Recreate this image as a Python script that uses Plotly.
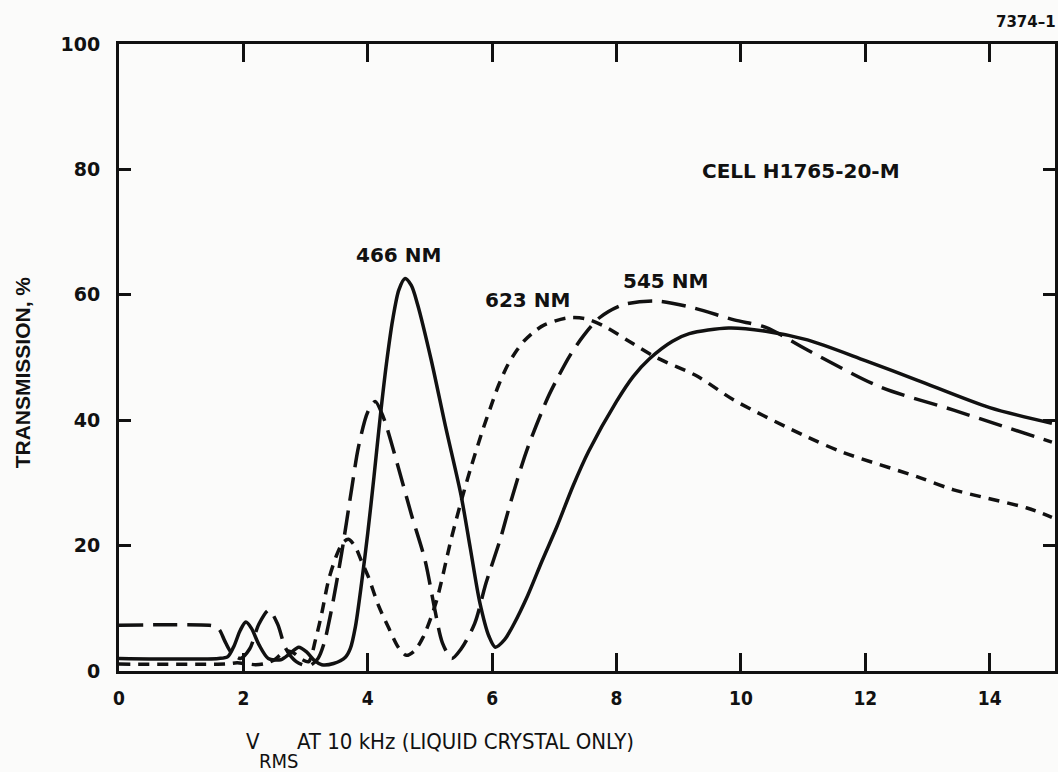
import plotly.graph_objects as go

# Transmission vs. RMS drive voltage (10 kHz) for cell H1765-20-M at three wavelengths
v_466 = [0, 1.6, 1.75, 1.85, 1.95, 2.04, 2.13, 2.25, 2.4, 2.6, 2.75, 2.89, 3.02, 3.15, 3.26,
         3.45, 3.64, 3.72, 3.8, 3.9, 4.0, 4.1, 4.2, 4.3, 4.4, 4.5, 4.6, 4.7, 4.8, 5.02, 5.25,
         5.5, 5.65, 5.8, 5.95, 6.05, 6.2, 6.35, 6.57, 6.8, 7.04, 7.3, 7.55, 8.0, 8.27, 8.53,
         8.9, 9.17, 9.8, 10.4, 11.07, 12.0, 12.83, 14.0, 15.0]
t_466 = [2.0, 2.0, 2.3, 4.0, 6.5, 7.8, 6.8, 4.2, 2.0, 1.8, 2.8, 3.8, 3.0, 1.6, 1.0,
         1.2, 2.2, 3.6, 7.0, 14.0, 22.0, 31.0, 40.5, 49.0, 56.0, 60.8, 62.6, 61.5, 58.5, 49.6, 39.0,
         28.0, 19.5, 11.0, 5.5, 3.8, 5.0, 7.5, 12.0, 17.5, 23.0, 29.5, 35.0, 43.0, 47.0, 49.8,
         52.6, 53.8, 54.7, 54.2, 52.8, 49.5, 46.4, 42.0, 39.5]

v_545 = [0, 1.45, 1.55, 1.62, 1.7, 1.8, 1.95, 2.1, 2.25, 2.41, 2.55, 2.68, 2.85, 3.05, 3.2,
         3.3, 3.37, 3.45, 3.58, 3.74, 3.85, 4.0, 4.12, 4.25, 4.49, 4.7, 4.92, 5.08, 5.2, 5.35,
         5.5, 5.72, 5.9, 6.13, 6.3, 6.55, 6.89, 7.04, 7.25, 7.47, 7.72, 8.1, 8.64, 9.2, 9.89,
         10.4, 11.07, 12.24, 13.42, 15.0]
t_545 = [7.3, 7.3, 7.1, 6.5, 4.8, 3.0, 2.0, 3.5, 7.5, 9.7, 7.5, 3.6, 1.5, 0.8, 2.0,
         4.5, 7.5, 11.5, 18.8, 29.0, 35.7, 41.3, 43.0, 40.5, 32.5, 25.0, 17.7, 9.7, 4.5, 2.0,
         3.5, 7.6, 14.0, 21.0, 27.0, 35.0, 43.5, 46.5, 50.3, 53.5, 56.3, 58.4, 59.0, 58.0, 56.0,
         54.8, 51.2, 45.3, 41.6, 36.5]

v_623 = [0, 1.7, 1.8, 1.9, 2.0, 2.1, 2.2, 2.35, 2.5, 2.62, 2.72, 2.82, 2.95, 3.05, 3.16,
         3.26, 3.37, 3.5, 3.6, 3.69, 3.8, 3.9, 4.01, 4.17, 4.33, 4.49, 4.62, 4.75, 4.89, 5.1,
         5.34, 5.5, 5.66, 5.85, 5.98, 6.1, 6.25, 6.4, 6.52, 6.7, 6.84, 7.2, 7.5, 7.8, 8.2, 8.64,
         9.3, 9.89, 11.07, 11.66, 12.83, 13.42, 14.6, 15.0]
t_623 = [1.1, 1.1, 1.2, 1.3, 1.2, 1.1, 1.0, 1.2, 1.8, 2.8, 3.2, 2.8, 1.8, 1.5, 5.0,
         9.2, 14.5, 18.5, 20.5, 21.0, 19.8, 17.5, 15.0, 10.5, 7.0, 3.8, 2.5, 3.2, 5.4, 11.0,
         21.0, 27.0, 32.5, 38.5, 42.2, 45.5, 48.8, 51.2, 52.7, 54.3, 55.2, 56.3, 56.2, 55.0, 52.6, 50.0,
         47.0, 43.2, 37.3, 34.8, 31.0, 28.9, 26.0, 24.5]

x_ticks = [0, 2, 4, 6, 8, 10, 12, 14]
y_ticks = [0, 20, 40, 60, 80, 100]

WIDE = "DejaVu Sans"
PLAIN = "Liberation Sans"
NARROW = "Liberation Sans Narrow, DejaVu Sans Condensed, sans-serif"
INK = "#111111"

W, H = 1058, 772
L, R, T, B = 119, 0, 44, 101
PW, PH = W - L - R, H - T - B


def px_x(px):
    """Horizontal pixel position -> paper coordinate."""
    return (px - L) / PW


def px_y(py):
    """Vertical pixel position (from top) -> paper coordinate."""
    return (H - B - py) / PH


fig = go.Figure()
series = [
    (v_623, t_623, "623 NM", "11px,8px"),
    (v_545, t_545, "545 NM", "24px,10px"),
    (v_466, t_466, "466 NM", "solid"),
]
for v, t, name, dash in series:
    fig.add_trace(go.Scatter(
        x=v, y=t, mode="lines", name=name,
        line=dict(color=INK, width=3.5, dash=dash, shape="spline", smoothing=0.8),
        showlegend=False, hoverinfo="skip",
    ))

labels = [
    (4.49, 66.3, "466 NM"),
    (6.57, 59.2, "623 NM"),
    (8.79, 62.2, "545 NM"),
    (10.96, 79.7, "CELL H1765-20-M"),
]
for x, y, txt in labels:
    fig.add_annotation(x=x, y=y, text="<b>%s</b>" % txt, showarrow=False,
                       xanchor="center", yanchor="middle",
                       font=dict(family=WIDE, size=20, color=INK))

fig.add_annotation(xref="paper", yref="paper", x=px_x(1061), y=px_y(22),
                   xanchor="right", yanchor="middle",
                   text="<b>7374–1</b>", showarrow=False,
                   font=dict(family=WIDE, size=15, color=INK))

# y-axis title
fig.add_annotation(xref="paper", yref="paper", x=px_x(22), y=px_y(372),
                   xanchor="center", yanchor="middle", textangle=-90,
                   text="<b>TRANSMISSION, %</b>", showarrow=False,
                   font=dict(family=PLAIN, size=21, color=INK))

# x-axis title: V with a lowered RMS subscript, then the rest of the caption
fig.add_annotation(xref="paper", yref="paper", x=px_x(244), y=px_y(741),
                   xanchor="left", yanchor="middle",
                   text="V", showarrow=False, font=dict(family=NARROW, size=22, color=INK))
fig.add_annotation(xref="paper", yref="paper", x=px_x(257), y=px_y(761),
                   xanchor="left", yanchor="middle",
                   text="RMS", showarrow=False, font=dict(family=NARROW, size=20, color=INK))
fig.add_annotation(xref="paper", yref="paper", x=px_x(296), y=px_y(741),
                   xanchor="left", yanchor="middle",
                   text="AT 10 kHz (LIQUID CRYSTAL ONLY)", showarrow=False,
                   font=dict(family=NARROW, size=22, color=INK))

fig.update_xaxes(
    range=[0, 15.05], tickvals=x_ticks, ticktext=["<b>%d</b>" % v for v in x_ticks],
    ticks="inside", ticklen=18, tickwidth=2.5, tickcolor=INK,
    showline=True, linewidth=3, linecolor=INK, mirror="ticks",
    showgrid=False, zeroline=False,
    tickfont=dict(family=NARROW, size=19, color=INK),
    ticklabelstandoff=8,
)
fig.update_yaxes(
    range=[0, 100], tickvals=y_ticks, ticktext=["<b>%d</b>" % v for v in y_ticks],
    ticks="inside", ticklen=12, tickwidth=2.5, tickcolor=INK,
    showline=True, linewidth=3, linecolor=INK, mirror="ticks",
    showgrid=False, zeroline=False,
    tickfont=dict(family=WIDE, size=19, color=INK),
    ticklabelstandoff=12,
)
fig.update_layout(
    width=W, height=H,
    margin=dict(l=L, r=R, t=T, b=B),
    paper_bgcolor="#fbfbfa", plot_bgcolor="#fbfbfa",
)
fig.write_html("out.html")
